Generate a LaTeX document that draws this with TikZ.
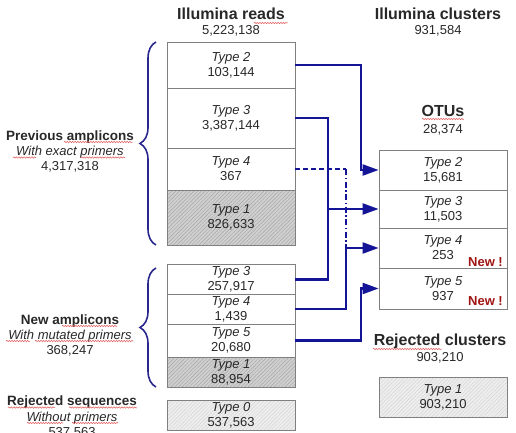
\documentclass[tikz,border=0pt]{standalone}
\usepackage{fontspec}
\setmainfont{Liberation Sans}
\usetikzlibrary{arrows.meta,patterns.meta,decorations.pathreplacing,decorations.pathmorphing,calc}
\definecolor{navy}{RGB}{20,20,150}
\definecolor{bracec}{RGB}{40,40,140}
\definecolor{boxline}{RGB}{128,128,128}
\definecolor{txt}{RGB}{40,40,40}
\definecolor{newred}{RGB}{160,20,20}
\definecolor{squig}{RGB}{225,90,90}
\definecolor{hatchdark}{RGB}{208,208,208}
\definecolor{hatchdarkline}{RGB}{165,165,165}
\definecolor{hatchlight}{RGB}{238,238,238}
\definecolor{hatchlightline}{RGB}{212,212,212}
\begin{document}
\begin{tikzpicture}[x=1pt,y=-1pt,
  box/.style={draw=boxline, line width=0.8pt, minimum width=128pt, inner sep=0pt,
    align=center, font=\fontsize{13}{15}\selectfont, text=txt},
  darkhatch/.style={preaction={fill=hatchdark},
    pattern={Lines[angle=45,distance=2.6pt,line width=0.45pt]}, pattern color=hatchdarkline},
  lighthatch/.style={preaction={fill=hatchlight},
    pattern={Lines[angle=45,distance=2.6pt,line width=0.45pt]}, pattern color=hatchlightline},
  conn/.style={draw=navy, line width=2.2pt},
  arr/.style={conn, -{Triangle[length=16pt,width=11pt]}},
  dashconn/.style={conn, line width=1.8pt, dash pattern=on 5pt off 3pt},
  dashdotconn/.style={conn, line width=1.8pt, dash pattern=on 6pt off 2.5pt on 1.5pt off 2.5pt},
  bracedeco/.style={draw=bracec, line width=1.6pt, decorate, decoration={brace, amplitude=16pt}},
  squiggle/.style={draw=squig, line width=0.5pt, decorate, decoration={snake, amplitude=0.7pt, segment length=2.6pt}},
  head/.style={anchor=base, font=\fontsize{16}{18}\selectfont\bfseries, text=txt, inner sep=0pt},
  num/.style={anchor=base, font=\fontsize{13}{15}\selectfont, text=txt, inner sep=0pt},
  lbl/.style={anchor=base, font=\fontsize{13.5}{15}\selectfont\bfseries, text=txt, inner sep=0pt},
  sub/.style={anchor=base, font=\fontsize{13}{15}\selectfont\itshape, text=txt, inner sep=0pt},
  newlbl/.style={anchor=base east, font=\fontsize{13}{15}\selectfont\bfseries, text=newred, inner sep=0pt}
]
\useasboundingbox (0,0) rectangle (516,433);
\clip (0,0) rectangle (516,433);

% headers
\node[head] (hreads) at (231,20) {Illumina reads};
\node[num] (nreads) at (231,35) {5,223,138};
\node[head] (hclus) at (438,20) {Illumina clusters};
\node[num] (nclus) at (438,35) {931,584};
\node[head] (hotu) at (443,117) {OTUs};
\node[num] (notu) at (443,133) {28,374};
\node[head] (hrej) at (440,345) {Rejected clusters};
\node[num] (nrej) at (440,361) {903,210};

% left labels
\node[lbl] (pa1) at (70,140) {Previous amplicons};
\node[sub] (pa2) at (70,155) {With exact primers};
\node[num] (pa3) at (70,170) {4,317,318};
\node[lbl] (na1) at (70,324) {New amplicons};
\node[sub] (na2) at (70,339) {With mutated primers};
\node[num] (na3) at (70,354) {368,247};
\node[lbl] (rs1) at (72,405) {Rejected sequences};
\node[sub] (rs2) at (72,421) {Without primers};
\node[num] (rs3) at (72,436) {537,563};

% spell-check squiggles
\draw[squiggle] (254,23) -- (288,23);
\draw[squiggle] (64,142) -- (133,142);
\draw[squiggle] (13,157.5) -- (36,157.5);
\draw[squiggle] (81,157.5) -- (125,157.5);
\draw[squiggle] (422,119) -- (464,119);
\draw[squiggle] (62,326) -- (117,326);
\draw[squiggle] (6,341) -- (30,341);
\draw[squiggle] (35,341) -- (133,341);
\draw[squiggle] (8,407.5) -- (55,407.5);
\draw[squiggle] (69,407.5) -- (137,407.5);
\draw[squiggle] (27,423) -- (63,423);
\draw[squiggle] (72,423) -- (118,423);
\draw[squiggle] (373,349) -- (442,349);

% left boxes (previous)
\node[box, minimum height=46pt] (L2) at (231,65) {\textit{Type 2}\\103,144};
\node[box, minimum height=60pt] (L3) at (231,118) {\textit{Type 3}\\3,387,144};
\node[box, minimum height=42pt] (L4) at (231,169) {\textit{Type 4}\\367};
\node[box, darkhatch, minimum height=55pt] (L1) at (231,217.5) {\textit{Type 1}\\826,633};

% left boxes (new)
\node[box, minimum height=29.5pt] (N3) at (231,279.5) {\textit{Type 3}\\257,917};
\node[box, minimum height=30pt] (N4) at (231,309) {\textit{Type 4}\\1,439};
\node[box, minimum height=33pt] (N5) at (231,340.5) {\textit{Type 5}\\20,680};
\node[box, darkhatch, minimum height=30pt] (N1) at (231,372) {\textit{Type 1}\\88,954};
\node[box, lighthatch, minimum height=30pt] (T0) at (231,415) {\textit{Type 0}\\537,563};

% right boxes
\node[box, minimum height=40pt] (O2) at (443,170) {\textit{Type 2}\\15,681};
\node[box, minimum height=38pt] (O3) at (443,209) {\textit{Type 3}\\11,503};
\node[box, minimum height=40pt] (O4) at (443,248) {\textit{Type 4}\\253};
\node[box, minimum height=41pt] (O5) at (443,288.5) {\textit{Type 5}\\937};
\node[box, lighthatch, minimum height=40pt] (R1) at (443,397) {\textit{Type 1}\\903,210};

\node[newlbl] (new4) at (503,266) {New !};
\node[newlbl] (new5) at (503,305) {New !};

% braces
\coordinate (bt1) at (156,245);
\coordinate (bt2) at (156,42);
\coordinate (bb1) at (156,387);
\coordinate (bb2) at (156,268);
\draw[bracedeco] (bt1) -- (bt2);
\draw[bracedeco] (bb1) -- (bb2);

% connector columns
\coordinate (X2) at (361,0);
\coordinate (X3) at (328,0);
\coordinate (X4) at (346,0);
\coordinate (X5) at (361,0);

% type 2
\draw[arr] (L2.east) -| (O2.west -| X2) -- (O2.west);
% type 3
\draw[conn] (L3.east) -| (N3.east -| X3) -- (N3.east);
\draw[arr] (O3.west -| X3) -- (O3.west);
% type 4
\draw[dashconn] (L4.east) -- (L4.east -| X4);
\draw[dashdotconn] (L4.east -| X4) -- (O4.west -| X4);
\draw[conn] (N4.east) -| (O4.west -| X4);
\draw[arr] (O4.west -| X4) -- (O4.west);
% type 5
\draw[arr] (N5.east) -| (O5.west -| X5) -- (O5.west);
\end{tikzpicture}
\end{document}
